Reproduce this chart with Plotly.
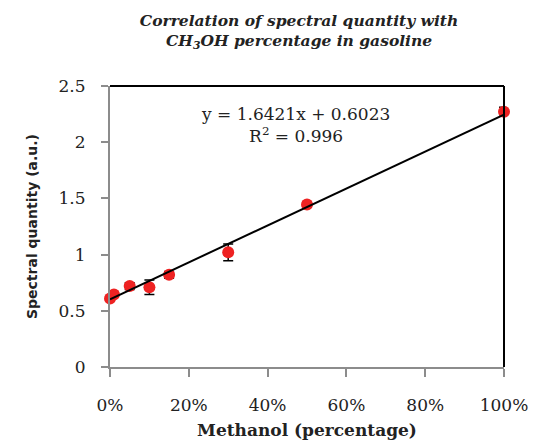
import plotly.graph_objects as go

# Data
methanol_frac = [0.0, 0.01, 0.05, 0.10, 0.15, 0.30, 0.50, 1.00]
spectral_qty = [0.61, 0.645, 0.72, 0.71, 0.82, 1.02, 1.445, 2.27]
err = [0.02, 0.02, 0.03, 0.065, 0.03, 0.075, 0.02, 0.04]

slope = 1.6421
intercept = 0.6023
r2 = 0.996
trend_x = [0.0, 1.0]
trend_y = [slope * x + intercept for x in trend_x]

x_ticks = [0, 0.2, 0.4, 0.6, 0.8, 1.0]
y_ticks = [0, 0.5, 1, 1.5, 2, 2.5]

fig = go.Figure()
fig.add_trace(go.Scatter(
    x=methanol_frac, y=spectral_qty, mode="markers",
    marker=dict(color="#ee2222", size=12),
    error_y=dict(type="data", array=err, color="black", thickness=1.5, width=5),
    showlegend=False, cliponaxis=False,
))
fig.add_trace(go.Scatter(
    x=trend_x, y=trend_y, mode="lines",
    line=dict(color="black", width=2), showlegend=False,
))

fig.add_annotation(
    x=0.47, y=0.86, xref="paper", yref="paper", yanchor="middle",
    text=f"y = {slope}x + {intercept}<br>R<sup>2</sup> = {r2}",
    showarrow=False, align="center",
    font=dict(family="DejaVu Serif", size=17, color="#222222"),
)

# top and right border of plot area
fig.add_shape(type="line", xref="paper", yref="paper", x0=0, x1=1, y0=1, y1=1,
              line=dict(color="black", width=2))
fig.add_shape(type="line", xref="paper", yref="paper", x0=1, x1=1, y0=0, y1=1,
              line=dict(color="black", width=2))

fig.update_layout(
    width=544, height=445,
    margin=dict(l=102, r=48, t=78, b=86),
    paper_bgcolor="white", plot_bgcolor="white",
    title=dict(
        text="<b><i>Correlation of spectral quantity with<br>CH<sub>3</sub>OH percentage in gasoline</i></b>",
        x=0.535, xanchor="center", y=0.96, yanchor="top",
        font=dict(family="DejaVu Serif", size=15.5, color="#222222"),
    ),
    xaxis=dict(
        range=[0, 1], tickvals=x_ticks, tickformat=".0%",
        showgrid=False, zeroline=False,
        showline=True, linecolor="#8c8c8c", linewidth=2,
        ticks="outside", ticklen=8, tickcolor="#8c8c8c", tickwidth=2,
        ticklabelstandoff=14,
        tickfont=dict(family="DejaVu Serif", size=17, color="#222222"),
        title=dict(text="<b>Methanol (percentage)</b>", standoff=10,
                   font=dict(family="DejaVu Serif", size=17, color="#222222")),
    ),
    yaxis=dict(
        range=[0, 2.5], tickvals=y_ticks,
        showgrid=False, zeroline=False,
        showline=True, linecolor="#8c8c8c", linewidth=2,
        ticks="outside", ticklen=7, tickcolor="#8c8c8c", tickwidth=2,
        ticklabelstandoff=12,
        tickfont=dict(family="DejaVu Serif", size=17, color="#222222"),
        title=dict(text="<b>Spectral quantity (a.u.)</b>", standoff=18,
                   font=dict(family="DejaVu Sans", size=14, color="#222222")),
    ),
)

fig.write_html("out.html")
